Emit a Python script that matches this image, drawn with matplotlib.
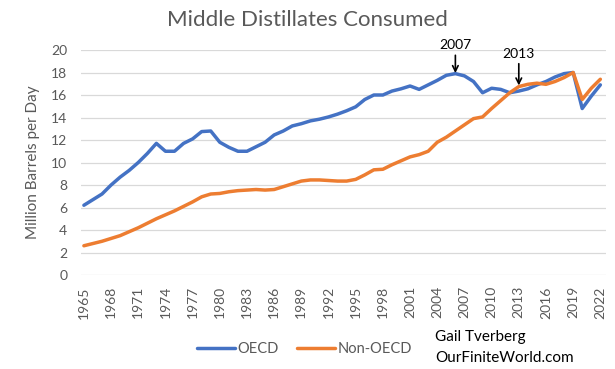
import matplotlib
matplotlib.use("Agg")
import matplotlib.pyplot as plt

years = list(range(1965, 2023))
oecd = [6.2, 6.7, 7.2, 8.0, 8.7, 9.3, 10.0, 10.8, 11.7, 11.0,
        11.0, 11.7, 12.1, 12.75, 12.8, 11.8, 11.35, 11.0, 11.0, 11.4,
        11.8, 12.45, 12.8, 13.25, 13.45, 13.7, 13.85, 14.05, 14.3, 14.6,
        14.95, 15.6, 16.0, 16.0, 16.35, 16.55, 16.8, 16.5, 16.9, 17.3,
        17.75, 17.9, 17.7, 17.2, 16.2, 16.6, 16.5, 16.2, 16.35, 16.55,
        16.9, 17.2, 17.6, 17.9, 18.0, 14.8, 15.9, 16.9]
non_oecd = [2.6, 2.8, 3.0, 3.25, 3.5, 3.85, 4.2, 4.6, 5.0, 5.35,
            5.7, 6.1, 6.5, 6.95, 7.2, 7.25, 7.4, 7.5, 7.55, 7.6,
            7.55, 7.6, 7.85, 8.1, 8.35, 8.45, 8.45, 8.4, 8.35, 8.35,
            8.5, 8.9, 9.35, 9.4, 9.8, 10.15, 10.5, 10.7, 11.0, 11.8,
            12.25, 12.8, 13.35, 13.9, 14.05, 14.8, 15.5, 16.2, 16.75, 16.95,
            17.05, 16.95, 17.2, 17.55, 18.0, 15.6, 16.6, 17.4]
tick_years = list(range(1965, 2023, 3))
y_ticks = list(range(0, 21, 2))

plt.rcParams['font.family'] = ['Lato', 'DejaVu Sans']
GRAY = '#595959'

fig = plt.figure(figsize=(6.15, 3.69), dpi=100)
ax = fig.add_axes([0.132, 0.2547, 0.853, 0.6098])

ax.plot(years, oecd, color='#4472C4', lw=2.5, label='OECD', solid_capstyle='round', solid_joinstyle='round')
ax.plot(years, non_oecd, color='#ED7D31', lw=2.5, label='Non-OECD', solid_capstyle='round', solid_joinstyle='round')

ax.set_ylim(0, 20)
ax.set_xlim(1964.7, 2022.6)
ax.set_yticks(y_ticks)
ax.set_xticks(tick_years)
ax.set_xticklabels([str(y) for y in tick_years], rotation=90)
ax.tick_params(axis='both', length=0, labelsize=10, labelcolor=GRAY)
ax.tick_params(axis='y', pad=10)
ax.tick_params(axis='x', pad=8)
ax.grid(axis='y', color='#D9D9D9', lw=0.9)
ax.set_axisbelow(True)
for s in ax.spines.values():
    s.set_visible(False)

ax.set_ylabel('Million Barrels per Day', fontsize=11, color=GRAY, labelpad=8)
fig.text(0.5, 0.945, 'Middle Distillates Consumed', ha='center', va='center',
         fontsize=16, color=GRAY)

ax.annotate('2007', xy=(2006, 17.95), xytext=(2006, 19.9), ha='center', va='bottom',
            fontsize=10, color='black', annotation_clip=False,
            arrowprops=dict(arrowstyle='->', color='black', lw=1.2, shrinkA=1, shrinkB=0))
ax.annotate('2013', xy=(2013, 16.85), xytext=(2013, 19.15), ha='center', va='bottom',
            fontsize=10, color='black', annotation_clip=False,
            arrowprops=dict(arrowstyle='->', color='black', lw=1.2, shrinkA=1, shrinkB=0))

leg = fig.legend(loc='center', bbox_to_anchor=(0.495, 0.055), ncol=2, frameon=False,
                 fontsize=10.5, handlelength=2.6, columnspacing=1.2, handletextpad=0.2,
                 labelcolor=GRAY)

fig.text(0.707, 0.087, 'Gail Tverberg', fontsize=11, color='black', va='center')
fig.text(0.707, 0.030, 'OurFiniteWorld.com', fontsize=11, color='black', va='center')

fig.savefig('out.png', dpi=100)
